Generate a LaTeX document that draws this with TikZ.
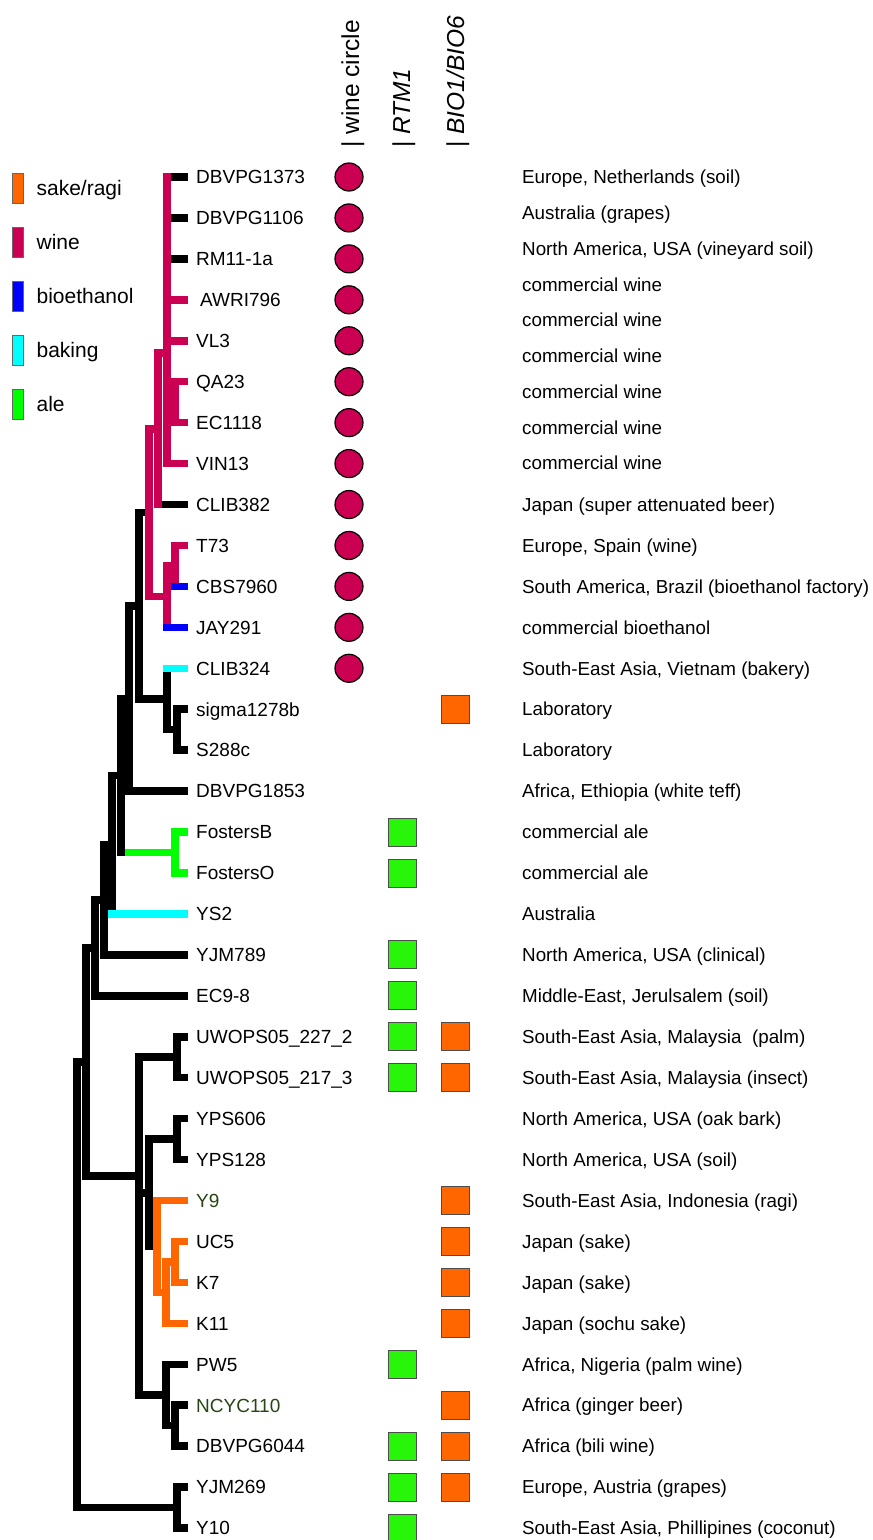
\documentclass[tikz,border=0pt]{standalone}
\usepackage{fontspec}
\setmainfont{Liberation Sans}
\usetikzlibrary{positioning}
\definecolor{winered}{RGB}{204,0,82}
\definecolor{sakeorange}{RGB}{255,102,0}
\definecolor{bioblue}{RGB}{0,0,255}
\definecolor{bakecyan}{RGB}{0,255,255}
\definecolor{alegreen}{RGB}{0,255,0}
\definecolor{boxgreen}{RGB}{40,245,10}
\definecolor{leafgreen}{RGB}{40,70,20}

\begin{document}
\begin{tikzpicture}
    [
        x=1pt, y=-1pt, node distance=40.94pt and 11.7pt, line cap=rect,
        black_line/.style={line width=7.5pt, color=black},
        wine_line/.style={line width=7.5pt, color=winered},
        bio_line/.style={line width=7.5pt, color=bioblue},
        bake_line/.style={line width=7.5pt, color=bakecyan},
        ale_line/.style={line width=7.5pt, color=alegreen},
        sake_line/.style={line width=7.5pt, color=sakeorange},
        off_corner/.style={shorten <=7.5pt},
        into_clade/.style={shorten >=7.5pt},
        leaf_label/.style={inner sep=0pt, text height=13.6pt, text depth=0pt, font=\fontsize{19}{22}\selectfont},
        desc_text/.style={anchor=west, inner sep=0pt, text height=13.5pt, text depth=0pt, font=\fontsize{18.8}{22}\selectfont},
        head_text/.style={anchor=base west, rotate=90, inner sep=0pt, font=\fontsize{24.5}{28}\selectfont},
        wine_dot/.style={circle, draw=black, line width=1.2pt, fill=winered, minimum size=28pt, inner sep=0pt},
        rtm_box/.style={rectangle, draw=black!70, line width=0.8pt, fill=boxgreen, minimum size=28pt, inner sep=0pt},
        bio_box/.style={rectangle, draw=black!70, line width=0.8pt, fill=sakeorange, minimum size=28pt, inner sep=0pt},
        legend_bar/.style={rectangle, draw=black!60, line width=0.8pt, minimum width=11pt, minimum height=30pt, inner sep=0pt},
        legend_text/.style={anchor=west, inner sep=0pt, text height=15pt, text depth=0pt, font=\fontsize{21}{25}\selectfont},
    ]
        \useasboundingbox (0,0) rectangle (873,1540);

        \node[legend_bar, fill=sakeorange] (leg_sake) at (17.5,188) {};
        \node[legend_bar, fill=winered] (leg_wine) [below = 23.2pt of leg_sake] {};
        \node[legend_bar, fill=bioblue] (leg_bio) [below = 23.2pt of leg_wine] {};
        \node[legend_bar, fill=bakecyan] (leg_bake) [below = 23.2pt of leg_bio] {};
        \node[legend_bar, fill=alegreen] (leg_ale) [below = 23.2pt of leg_bake] {};
        \node[legend_text] (leg_sake_text) [right = 13pt of leg_sake] {sake/ragi};
        \node[legend_text] (leg_wine_text) [right = 13pt of leg_wine] {wine};
        \node[legend_text] (leg_bio_text) [right = 13pt of leg_bio] {bioethanol};
        \node[legend_text] (leg_bake_text) [right = 13pt of leg_bake] {baking};
        \node[legend_text] (leg_ale_text) [right = 13pt of leg_ale] {ale};

        \node[head_text] (head_wine) at (359,148) {| wine circle};
        \node[head_text] (head_rtm) at (410,148) {| \textit{RTM1}};
        \node[head_text] (head_bio) at (464,148) {| \textit{BIO1/BIO6}};

        \coordinate (t0) at (184.3,177);
        \coordinate [below = of t0] (t1);
        \coordinate [below = of t1] (t2);
        \coordinate [below = of t2] (t3);
        \coordinate [below = of t3] (t4);
        \coordinate [below = of t4] (t5);
        \coordinate [below = of t5] (t6);
        \coordinate [below = of t6] (t7);
        \coordinate [below = of t7] (t8);
        \coordinate [below = of t8] (t9);
        \coordinate [below = of t9] (t10);
        \coordinate [below = of t10] (t11);
        \coordinate [below = of t11] (t12);
        \coordinate [below = of t12] (t13);
        \coordinate [below = of t13] (t14);
        \coordinate [below = of t14] (t15);
        \coordinate [below = of t15] (t16);
        \coordinate [below = of t16] (t17);
        \coordinate [below = of t17] (t18);
        \coordinate [below = of t18] (t19);
        \coordinate [below = of t19] (t20);
        \coordinate [below = of t20] (t21);
        \coordinate [below = of t21] (t22);
        \coordinate [below = of t22] (t23);
        \coordinate [below = of t23] (t24);
        \coordinate [below = of t24] (t25);
        \coordinate [below = of t25] (t26);
        \coordinate [below = of t26] (t27);
        \coordinate [below = of t27] (t28);
        \coordinate [below = of t28] (t29);
        \coordinate [below = of t29] (t30);
        \coordinate [below = of t30] (t31);
        \coordinate [below = of t31] (t32);
        \coordinate [below = of t32] (t33);

        \node[leaf_label] (dbvpg1373) [right = of t0] {DBVPG1373};
        \node[leaf_label] (dbvpg1106) [right = of t1] {DBVPG1106};
        \node[leaf_label] (rm11) [right = of t2] {RM11-1a};
        \node[leaf_label] (awri796) [right = 15.7pt of t3] {AWRI796};
        \node[leaf_label] (vl3) [right = of t4] {VL3};
        \node[leaf_label] (qa23) [right = of t5] {QA23};
        \node[leaf_label] (ec1118) [right = of t6] {EC1118};
        \node[leaf_label] (vin13) [right = of t7] {VIN13};
        \node[leaf_label] (clib382) [right = of t8] {CLIB382};
        \node[leaf_label] (t73) [right = of t9] {T73};
        \node[leaf_label] (cbs7960) [right = of t10] {CBS7960};
        \node[leaf_label] (jay291) [right = of t11] {JAY291};
        \node[leaf_label] (clib324) [right = of t12] {CLIB324};
        \node[leaf_label] (sigma1278b) [right = of t13] {sigma1278b};
        \node[leaf_label] (s288c) [right = of t14] {S288c};
        \node[leaf_label] (dbvpg1853) [right = of t15] {DBVPG1853};
        \node[leaf_label] (fostersb) [right = of t16] {FostersB};
        \node[leaf_label] (producto) [right = of t17] {FostersO};
        \node[leaf_label] (ys2) [right = of t18] {YS2};
        \node[leaf_label] (yjm789) [right = of t19] {YJM789};
        \node[leaf_label] (ec98) [right = of t20] {EC9-8};
        \node[leaf_label] (uwops227) [right = of t21] {UWOPS05\_227\_2};
        \node[leaf_label] (uwops217) [right = of t22] {UWOPS05\_217\_3};
        \node[leaf_label] (yps606) [right = of t23] {YPS606};
        \node[leaf_label] (yps128) [right = of t24] {YPS128};
        \node[leaf_label, text=leafgreen] (y9) [right = of t25] {Y9};
        \node[leaf_label] (uc5) [right = of t26] {UC5};
        \node[leaf_label] (k7) [right = of t27] {K7};
        \node[leaf_label] (k11) [right = of t28] {K11};
        \node[leaf_label] (pw5) [right = of t29] {PW5};
        \node[leaf_label, text=leafgreen] (ncyc110) [right = of t30] {NCYC110};
        \node[leaf_label] (dbvpg6044) [right = of t31] {DBVPG6044};
        \node[leaf_label] (yjm269) [right = of t32] {YJM269};
        \node[leaf_label] (y10) [right = of t33] {Y10};

        \coordinate (qa_ec) at (175,402.2);
        \coordinate (wine_a) at (167,353);
        \coordinate (wine_b) at (158,428.8);
        \coordinate (t73_cbs) at (175,565.9);
        \coordinate (wine_c) at (167,596.6);
        \coordinate (wine_w) at (149,512.7);
        \coordinate (sig_s288) at (177,729.7);
        \coordinate (bake_d) at (167,699);
        \coordinate (node_e) at (139,605.8);
        \coordinate (node_f) at (129,698.5);
        \coordinate (fosters) at (175,852.5);
        \coordinate (node_g) at (121,775.5);
        \coordinate (node_h) at (112,844.7);
        \coordinate (node_i) at (104,899.8);
        \coordinate (node_j) at (95,947.8);
        \coordinate (uwops) at (177,1057.2);
        \coordinate (yps) at (177,1139.1);
        \coordinate (uc5_k7) at (175,1261.9);
        \coordinate (sake_k) at (166,1292.6);
        \coordinate (sake_y) at (157,1246.6);
        \coordinate (node_n) at (149,1192.8);
        \coordinate (ncyc_dbv) at (175,1425.7);
        \coordinate (pw5_n) at (166,1395);
        \coordinate (node_m) at (139,1176);
        \coordinate (node_k) at (86,1061.9);
        \coordinate (yjm_y10) at (177,1507.6);
        \coordinate (node_l) at (77,1284.7);

        \draw[wine_line] (wine_a |- t0) -- (wine_a |- t7);
        \draw[wine_line] (qa_ec |- t5) -- (qa_ec |- t6);
        \draw[wine_line] (wine_b |- wine_a) -- (wine_b |- t8);
        \draw[wine_line] (t73_cbs |- t9) -- (t73_cbs |- t10);
        \draw[wine_line] (wine_c |- t73_cbs) -- (wine_c |- t11);
        \draw[wine_line] (wine_w |- wine_b) -- (wine_w |- wine_c);
        \draw[black_line] (sig_s288 |- t13) -- (sig_s288 |- t14);
        \draw[black_line] (bake_d |- t12) -- (bake_d |- sig_s288);
        \draw[black_line] (node_e |- wine_w) -- (node_e |- bake_d);
        \draw[black_line] (node_f |- node_e) -- (node_f |- t15);
        \draw[ale_line] (fosters |- t16) -- (fosters |- t17);
        \draw[black_line] (node_g |- node_f) -- (node_g |- fosters);
        \draw[black_line] (node_h |- node_g) -- (node_h |- t18);
        \draw[black_line] (node_i |- node_h) -- (node_i |- t19);
        \draw[black_line] (node_j |- node_i) -- (node_j |- t20);
        \draw[black_line] (uwops |- t21) -- (uwops |- t22);
        \draw[black_line] (yps |- t23) -- (yps |- t24);
        \draw[sake_line] (uc5_k7 |- t26) -- (uc5_k7 |- t27);
        \draw[sake_line] (sake_k |- uc5_k7) -- (sake_k |- t28);
        \draw[sake_line] (sake_y |- t25) -- (sake_y |- sake_k);
        \draw[black_line] (node_n |- yps) -- (node_n |- sake_y);
        \draw[black_line] (ncyc_dbv |- t30) -- (ncyc_dbv |- t31);
        \draw[black_line] (pw5_n |- t29) -- (pw5_n |- ncyc_dbv);
        \draw[black_line] (node_m |- uwops) -- (node_m |- pw5_n);
        \draw[black_line] (node_k |- node_j) -- (node_k |- node_m);
        \draw[black_line] (yjm_y10 |- t32) -- (yjm_y10 |- t33);
        \draw[black_line] (node_l |- node_k) -- (node_l |- yjm_y10);

        \draw[black_line, off_corner] (wine_a |- t0) -- (t0);
        \draw[black_line, off_corner] (wine_a |- t1) -- (t1);
        \draw[black_line, off_corner] (wine_a |- t2) -- (t2);
        \draw[wine_line] (wine_a |- t3) -- (t3);
        \draw[wine_line] (wine_a |- t4) -- (t4);
        \draw[wine_line] (wine_a |- qa_ec) -- (qa_ec);
        \draw[wine_line] (qa_ec |- t5) -- (t5);
        \draw[wine_line] (qa_ec |- t6) -- (t6);
        \draw[wine_line] (wine_a |- t7) -- (t7);
        \draw[wine_line] (wine_b |- wine_a) -- (wine_a);
        \draw[black_line, off_corner] (wine_b |- t8) -- (t8);
        \draw[wine_line] (t73_cbs |- t9) -- (t9);
        \draw[bio_line] (t73_cbs |- t10) -- (t10);
        \draw[wine_line] (wine_c |- t73_cbs) -- (t73_cbs);
        \draw[bio_line] (wine_c |- t11) -- (t11);
        \draw[wine_line] (wine_w |- wine_b) -- (wine_b);
        \draw[wine_line] (wine_w |- wine_c) -- (wine_c);
        \draw[bake_line] (bake_d |- t12) -- (t12);
        \draw[black_line] (sig_s288 |- t13) -- (t13);
        \draw[black_line] (sig_s288 |- t14) -- (t14);
        \draw[black_line] (bake_d |- sig_s288) -- (sig_s288);
        \draw[black_line, into_clade] (node_e |- wine_w) -- (wine_w);
        \draw[black_line] (node_e |- bake_d) -- (bake_d);
        \draw[black_line] (node_f |- node_e) -- (node_e);
        \draw[black_line] (node_f |- t15) -- (t15);
        \draw[ale_line] (fosters |- t16) -- (t16);
        \draw[ale_line] (fosters |- t17) -- (t17);
        \draw[black_line] (node_g |- node_f) -- (node_f);
        \draw[ale_line, off_corner] (node_g |- fosters) -- (fosters);
        \draw[black_line] (node_h |- node_g) -- (node_g);
        \draw[bake_line] (node_h |- t18) -- (t18);
        \draw[black_line] (node_i |- node_h) -- (node_h);
        \draw[black_line] (node_i |- t19) -- (t19);
        \draw[black_line] (node_j |- node_i) -- (node_i);
        \draw[black_line] (node_j |- t20) -- (t20);
        \draw[black_line] (uwops |- t21) -- (t21);
        \draw[black_line] (uwops |- t22) -- (t22);
        \draw[black_line] (yps |- t23) -- (t23);
        \draw[black_line] (yps |- t24) -- (t24);
        \draw[sake_line] (sake_y |- t25) -- (t25);
        \draw[sake_line] (uc5_k7 |- t26) -- (t26);
        \draw[sake_line] (uc5_k7 |- t27) -- (t27);
        \draw[sake_line] (sake_k |- uc5_k7) -- (uc5_k7);
        \draw[sake_line] (sake_k |- t28) -- (t28);
        \draw[sake_line] (sake_y |- sake_k) -- (sake_k);
        \draw[black_line] (node_n |- yps) -- (yps);
        \draw[black_line, into_clade] (node_n |- sake_y) -- (sake_y);
        \draw[black_line] (ncyc_dbv |- t30) -- (t30);
        \draw[black_line] (ncyc_dbv |- t31) -- (t31);
        \draw[black_line] (pw5_n |- t29) -- (t29);
        \draw[black_line] (pw5_n |- ncyc_dbv) -- (ncyc_dbv);
        \draw[black_line] (node_m |- uwops) -- (uwops);
        \draw[black_line] (node_m |- node_n) -- (node_n);
        \draw[black_line] (node_m |- pw5_n) -- (pw5_n);
        \draw[black_line] (node_k |- node_j) -- (node_j);
        \draw[black_line] (node_k |- node_m) -- (node_m);
        \draw[black_line] (yjm_y10 |- t32) -- (t32);
        \draw[black_line] (yjm_y10 |- t33) -- (t33);
        \draw[black_line] (node_l |- node_k) -- (node_k);
        \draw[black_line] (node_l |- yjm_y10) -- (yjm_y10);

        \coordinate (col_wine) at (349,0);
        \coordinate (col_rtm) at (402,0);
        \coordinate (col_bio) at (455,0);
        \coordinate (col_desc) at (522,0);

        \node[wine_dot] (wc_dbvpg1373) at (col_wine |- t0) {};
        \node[wine_dot] (wc_dbvpg1106) at (col_wine |- t1) {};
        \node[wine_dot] (wc_rm11) at (col_wine |- t2) {};
        \node[wine_dot] (wc_awri796) at (col_wine |- t3) {};
        \node[wine_dot] (wc_vl3) at (col_wine |- t4) {};
        \node[wine_dot] (wc_qa23) at (col_wine |- t5) {};
        \node[wine_dot] (wc_ec1118) at (col_wine |- t6) {};
        \node[wine_dot] (wc_vin13) at (col_wine |- t7) {};
        \node[wine_dot] (wc_clib382) at (col_wine |- t8) {};
        \node[wine_dot] (wc_t73) at (col_wine |- t9) {};
        \node[wine_dot] (wc_cbs7960) at (col_wine |- t10) {};
        \node[wine_dot] (wc_jay291) at (col_wine |- t11) {};
        \node[wine_dot] (wc_clib324) at (col_wine |- t12) {};

        \node[rtm_box] (rtm_fostersb) at (col_rtm |- t16) {};
        \node[rtm_box] (rtm_producto) at (col_rtm |- t17) {};
        \node[rtm_box] (rtm_yjm789) at (col_rtm |- t19) {};
        \node[rtm_box] (rtm_ec98) at (col_rtm |- t20) {};
        \node[rtm_box] (rtm_uwops227) at (col_rtm |- t21) {};
        \node[rtm_box] (rtm_uwops217) at (col_rtm |- t22) {};
        \node[rtm_box] (rtm_pw5) at (col_rtm |- t29) {};
        \node[rtm_box] (rtm_dbvpg6044) at (col_rtm |- t31) {};
        \node[rtm_box] (rtm_yjm269) at (col_rtm |- t32) {};
        \node[rtm_box] (rtm_y10) at (col_rtm |- t33) {};

        \node[bio_box] (bio_sigma) at (col_bio |- t13) {};
        \node[bio_box] (bio_uwops227) at (col_bio |- t21) {};
        \node[bio_box] (bio_uwops217) at (col_bio |- t22) {};
        \node[bio_box] (bio_y9) at (col_bio |- t25) {};
        \node[bio_box] (bio_uc5) at (col_bio |- t26) {};
        \node[bio_box] (bio_k7) at (col_bio |- t27) {};
        \node[bio_box] (bio_k11) at (col_bio |- t28) {};
        \node[bio_box] (bio_ncyc110) at (col_bio |- t30) {};
        \node[bio_box] (bio_dbvpg6044) at (col_bio |- t31) {};
        \node[bio_box] (bio_yjm269) at (col_bio |- t32) {};

        \node[desc_text] (d0) at (522,177) {Europe, Netherlands (soil)};
        \node[desc_text] (d1) at (522,212.8) {Australia (grapes)};
        \node[desc_text] (d2) at (522,248.5) {North America, USA (vineyard soil)};
        \node[desc_text] (d3) at (522,284.3) {commercial wine};
        \node[desc_text] (d4) at (522,320) {commercial wine};
        \node[desc_text] (d5) at (522,355.8) {commercial wine};
        \node[desc_text] (d6) at (522,391.5) {commercial wine};
        \node[desc_text] (d7) at (522,427.3) {commercial wine};
        \node[desc_text] (d8) at (522,463) {commercial wine};
        \node[desc_text] (d_clib382) at (col_desc |- t8) {Japan (super attenuated beer)};
        \node[desc_text] (d_t73) at (col_desc |- t9) {Europe, Spain (wine)};
        \node[desc_text] (d_cbs7960) at (col_desc |- t10) {South America, Brazil (bioethanol factory)};
        \node[desc_text] (d_jay291) at (col_desc |- t11) {commercial bioethanol};
        \node[desc_text] (d_clib324) at (col_desc |- t12) {South-East Asia, Vietnam (bakery)};
        \node[desc_text] (d_sigma) at (col_desc |- t13) {Laboratory};
        \node[desc_text] (d_s288c) at (col_desc |- t14) {Laboratory};
        \node[desc_text] (d_dbvpg1853) at (col_desc |- t15) {Africa, Ethiopia (white teff)};
        \node[desc_text] (d_fostersb) at (col_desc |- t16) {commercial ale};
        \node[desc_text] (d_producto) at (col_desc |- t17) {commercial ale};
        \node[desc_text] (d_ys2) at (col_desc |- t18) {Australia};
        \node[desc_text] (d_yjm789) at (col_desc |- t19) {North America, USA (clinical)};
        \node[desc_text] (d_ec98) at (col_desc |- t20) {Middle-East, Jerulsalem (soil)};
        \node[desc_text] (d_uwops227) at (col_desc |- t21) {South-East Asia, Malaysia \ (palm)};
        \node[desc_text] (d_uwops217) at (col_desc |- t22) {South-East Asia, Malaysia (insect)};
        \node[desc_text] (d_yps606) at (col_desc |- t23) {North America, USA (oak bark)};
        \node[desc_text] (d_yps128) at (col_desc |- t24) {North America, USA (soil)};
        \node[desc_text] (d_y9) at (col_desc |- t25) {South-East Asia, Indonesia (ragi)};
        \node[desc_text] (d_uc5) at (col_desc |- t26) {Japan (sake)};
        \node[desc_text] (d_k7) at (col_desc |- t27) {Japan (sake)};
        \node[desc_text] (d_k11) at (col_desc |- t28) {Japan (sochu sake)};
        \node[desc_text] (d_pw5) at (col_desc |- t29) {Africa, Nigeria (palm wine)};
        \node[desc_text] (d_ncyc110) at (col_desc |- t30) {Africa (ginger beer)};
        \node[desc_text] (d_dbvpg6044) at (col_desc |- t31) {Africa (bili wine)};
        \node[desc_text] (d_yjm269) at (col_desc |- t32) {Europe, Austria (grapes)};
        \node[desc_text] (d_y10) at (col_desc |- t33) {South-East Asia, Phillipines (coconut)};
\end{tikzpicture}
\end{document}
